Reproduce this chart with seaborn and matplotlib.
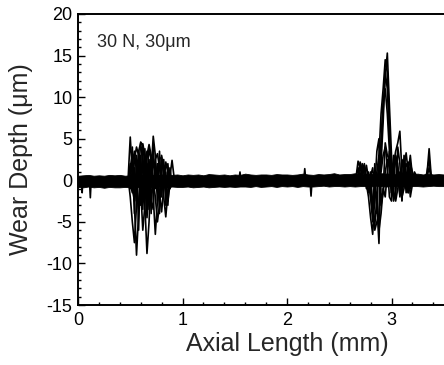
import numpy as np
import pandas as pd
import matplotlib
matplotlib.use("Agg")
import matplotlib.pyplot as plt
from matplotlib.ticker import MultipleLocator
import seaborn as sns

# ---------------- data ----------------
# baseline band envelope, sampled every 0.05 mm from 0 to 3.6 mm
base_start, base_step = 0.0, 0.05
base_upper = [0.55, 0.6, 0.65, 0.55, 0.6, 0.55, 0.65, 0.6, 0.65, 0.55,
              0.6, 0.65, 0.7, 0.6, 0.65, 0.6, 0.7, 0.6, 0.65, 0.7,
              0.6, 0.7, 0.65, 0.7, 0.6, 0.75, 0.7, 0.65, 0.7, 0.6,
              0.7, 0.65, 0.8, 0.7, 0.65, 0.7, 0.7, 0.65, 0.75, 0.7,
              0.7, 0.65, 0.7, 0.8, 0.7, 0.65, 0.75, 0.7, 0.75, 0.85,
              0.7, 0.75, 0.75, 0.85, 0.7, 0.75, 0.8, 0.75, 0.85, 0.8,
              0.8, 0.7, 0.8, 0.85, 0.75, 0.8, 0.7, 0.8, 0.7, 0.75,
              0.7, 0.75, 0.7]
base_lower = [-0.8, -0.85, -0.75, -0.85, -0.8, -0.9, -0.8, -0.85, -0.85, -0.8,
              -0.85, -0.75, -0.85, -0.8, -0.85, -0.75, -0.8, -0.85, -0.75, -0.8,
              -0.8, -0.75, -0.85, -0.8, -0.75, -0.85, -0.8, -0.75, -0.8, -0.75,
              -0.8, -0.75, -0.75, -0.8, -0.7, -0.8, -0.75, -0.7, -0.8, -0.7,
              -0.75, -0.7, -0.8, -0.7, -0.75, -0.75, -0.7, -0.65, -0.75, -0.7,
              -0.7, -0.75, -0.7, -0.75, -0.7, -0.7, -0.75, -0.65, -0.7, -0.75,
              -0.7, -0.7, -0.75, -0.65, -0.7, -0.7, -0.75, -0.7, -0.65, -0.7,
              -0.7, -0.7, -0.75]

# isolated narrow spikes on the baseline
spike_x = [0.0, 0.035, 0.04, 0.045, 0.11, 0.118, 0.126, 1.54, 1.55, 1.56,
           2.16, 2.17, 2.18, 2.22, 2.23, 2.24, 3.6]
spike_y = [0.0, 0.0, -1.5, 0.0, 0.0, -2.1, 0.0, 0.0, 1.0, 0.0,
           0.0, 1.4, 0.0, 0.0, -1.9, 0.0, 0.0]

# left wear zone, profiles sampled every 0.02 mm from 0.44 mm
left_start, left_step = 0.44, 0.02
left_profiles = {
    "L1": [0.1, -0.2, 0.3, 5.2, 1.0, -3.0, -9.0, -4.0, 0.5, 2.0, 1.5, 0.8, 0.3, 0.6,
           0.2, -0.3, 0.4, 0.1, -0.2, 0.3, 0.0, -0.2, 0.2, 0.1, -0.1, 0.2, 0.0],
    "L2": [-0.2, 0.2, 0.0, 0.5, -1.0, -2.5, 0.5, 3.5, 4.5, 2.0, -3.0, -8.8, -5.0, 1.0,
           5.3, 3.0, -1.0, 0.5, 0.2, -0.3, 0.1, 0.2, -0.2, 0.1, 0.0, -0.1, 0.2],
    "L3": [0.2, 0.0, -0.3, 1.5, 3.0, 0.5, -2.0, 1.0, 4.6, 4.2, 2.0, 0.5, 3.8, 2.5,
           0.0, -2.0, -5.0, -3.0, 3.0, 1.0, -1.0, 0.0, 0.2, -0.2, 0.1, 0.0, -0.1],
    "L4": [0.0, 0.3, 0.1, -0.5, -1.5, 2.5, 4.0, 3.0, -1.0, -3.5, 1.5, 3.5, 2.0, -2.5,
           -3.5, 2.5, 3.2, 1.5, 0.5, -2.0, -4.4, -1.5, 0.5, 2.4, 0.3, -0.2, 0.1],
    "L5": [-0.1, 0.1, 0.2, -2.0, -5.0, -7.5, -3.0, 2.0, -1.0, -6.0, -3.0, 3.0, 4.3, 3.0,
           -2.0, -6.5, -2.5, 2.5, 2.8, 0.5, 1.0, -2.5, -0.5, 0.3, -0.1, 0.1, 0.0],
    "L6": [0.1, -0.1, 0.0, 0.8, 2.0, 3.5, 1.0, -3.5, -2.0, 4.4, 3.0, -4.5, -1.0, 2.8,
           2.5, 1.5, 1.0, -1.5, -3.8, -1.0, 2.2, 1.0, -1.0, 0.0, 0.2, 0.0, -0.1],
    "L7": [0.0, 0.2, -0.1, 2.0, -1.0, 1.5, -2.5, 2.5, -3.0, 3.2, -2.0, 2.0, -3.5, 3.0,
           -1.5, 2.0, -2.5, 3.5, -2.0, 1.8, -3.0, 2.0, -1.0, 0.3, 0.1, -0.1, 0.0],
    "L8": [0.1, 0.0, 0.2, -1.0, 4.0, -4.0, 3.0, -6.0, 3.0, -2.5, 3.8, -3.5, 2.5, -4.0,
           4.0, -1.0, 2.0, -4.0, 1.5, 2.5, -1.0, -3.0, 1.5, -0.5, 0.2, 0.0, 0.1],
}

# right wear zone, profiles sampled every 0.02 mm from 2.60 mm
right_start, right_step = 2.60, 0.02
right_profiles = {
    "R1": [0.1, -0.2, 0.2, 0.0, 0.3, -0.1, 0.2, 0.0, -0.2, 0.1, 0.3, -0.5, 0.5, 0.2,
           1.0, 4.0, 8.5, 12.5, 15.3, 9.0, 3.0, -0.5, 0.5, 0.2, -0.3, 0.1, 0.2, -0.1,
           0.0, 0.2, -0.2, 0.1, 0.0, 0.2, -0.1, 0.1, 0.0, 0.2, -0.1, 0.1, 0.0, -0.2, 0.1],
    "R2": [0.0, 0.2, -0.1, 0.1, -0.2, 0.2, 0.0, 0.1, -0.3, -0.5, -2.0, -4.0, -1.0, -3.0,
           -7.6, 2.0, 7.0, 13.0, 11.0, 5.0, 1.0, -2.5, -1.0, 1.0, 0.5, -0.2, 0.1, 0.0,
           0.2, -0.1, 0.1, 0.0, -0.2, 0.2, 0.0, 0.1, -0.1, 0.0, 0.2, 0.1, -0.1, 0.0, 0.2],
    "R3": [-0.1, 0.1, 0.0, 0.3, 2.3, 1.5, 0.5, 0.2, -0.5, -2.0, -4.5, -6.5, -2.0, 1.0,
           3.0, -2.0, -1.5, 1.0, 2.5, 1.5, -1.0, 2.0, 3.5, 4.5, 5.9, 1.0, -0.5, 0.3,
           0.1, -0.1, 0.2, 0.0, 0.1, -0.2, 0.0, 0.1, 0.2, 0.0, -0.1, 0.1, 0.0, 0.2, -0.1],
    "R4": [0.2, 0.0, -0.1, 0.2, 0.1, 2.2, 1.0, 2.0, 0.5, 0.3, -1.0, -3.0, -5.5, -2.0,
           -6.0, -4.0, -1.0, -2.0, 1.0, 3.5, 2.0, -1.5, -2.5, -1.0, 1.0, -2.4, 1.5, 3.3,
           1.0, 3.0, 0.5, -0.5, 0.3, 0.0, 0.2, -0.1, 0.1, 0.0, -0.2, 0.1, 0.0, 0.1, 0.0],
    "R5": [0.0, 0.1, 0.2, -0.1, 0.0, 0.3, 0.5, 0.1, 1.8, 0.2, -0.3, 0.5, 1.0, -0.5,
           2.0, 1.0, 3.0, 4.0, 2.0, -2.0, -2.5, 1.0, 2.5, 1.5, -1.0, -2.0, -1.0, 2.0,
           1.5, -2.0, -0.5, 1.0, 0.5, 0.2, -0.3, 0.1, 0.3, 0.8, 3.8, 0.5, -0.2, 0.1, 0.0],
    "R6": [0.1, 0.0, -0.2, 0.1, 0.5, 0.2, -0.3, 0.0, 0.3, -0.2, 0.5, 1.5, -1.0, 3.5,
           5.0, -3.0, -1.5, 4.5, 3.0, 2.5, -1.5, 1.5, 2.8, 1.0, -1.8, 2.5, 1.8, -1.0,
           -1.5, 2.0, 1.0, 0.3, -0.4, 0.2, 0.1, -0.2, 0.0, 0.4, 1.5, 0.3, 0.0, -0.1, 0.1],
    "R7": [0.0, 0.1, -0.1, 0.2, 1.5, 0.3, 2.0, 0.5, -1.0, 1.0, -2.0, -5.0, 2.0, -4.0,
           3.0, 8.0, 11.0, 14.5, 13.0, 7.0, -1.5, 3.0, -2.0, 4.0, 2.0, -2.5, 3.0, 1.0,
           -1.5, 1.5, -0.5, 0.2, 0.0, 0.1, -0.1, 0.2, 0.0, 1.0, 2.5, 0.2, 0.0, 0.1, -0.1],
    "R8": [0.1, -0.1, 0.0, 0.1, 0.5, 2.0, 0.5, 1.5, -0.5, -1.5, 1.0, -3.0, -6.0, -5.0,
           -4.0, 5.0, 9.5, 11.0, 8.0, 3.5, -2.0, -1.0, 3.0, 2.0, -2.0, 1.5, 2.5, -1.5,
           2.2, -1.0, 0.8, -0.3, 0.1, 0.0, -0.1, 0.1, 0.2, 0.0, 0.5, 0.1, -0.1, 0.0, 0.1],
}

x_ticks = [0, 1, 2, 3]
y_ticks = [-15, -10, -5, 0, 5, 10, 15, 20]
annotation = "30 N, 30\u03bcm"

# ---------------- build long table ----------------
rows = []
for name, vals in left_profiles.items():
    for i, v in enumerate(vals):
        rows.append((name, left_start + left_step * i, v))
for name, vals in right_profiles.items():
    for i, v in enumerate(vals):
        rows.append((name, right_start + right_step * i, v))
for xv, yv in zip(spike_x, spike_y):
    rows.append(("S", xv, yv))
df = pd.DataFrame(rows, columns=["trace", "axial", "depth"])

base_x = [base_start + base_step * i for i in range(len(base_upper))]

# ---------------- plot ----------------
sns.set_style("ticks")
plt.rcParams["font.family"] = ["Liberation Sans", "DejaVu Sans"]
plt.rcParams["axes.unicode_minus"] = False

fig = plt.figure(figsize=(4.44, 3.65), dpi=100)
ax = fig.add_axes([78 / 444, 60 / 365, 418 / 444, 291 / 365])

ax.fill_between(base_x, base_lower, base_upper, color="black", lw=0.6,
                edgecolor="black")
sns.lineplot(data=df, x="axial", y="depth", units="trace", estimator=None,
             sort=False, color="black", lw=1.2, ax=ax, legend=False)

ax.set_xlim(0, 4)
ax.set_ylim(-15, 20)
ax.set_xticks(x_ticks)
ax.set_yticks(y_ticks)
ax.xaxis.set_minor_locator(MultipleLocator(0.2))
ax.yaxis.set_minor_locator(MultipleLocator(1))
ax.tick_params(which="both", direction="in", colors="black", width=1.0,
               labelsize=13, top=False, right=False)
ax.tick_params(which="major", length=5)
ax.tick_params(which="minor", length=2.5)
ax.tick_params(axis="x", pad=5)
ax.tick_params(axis="y", pad=4)

for side in ["left", "bottom", "top", "right"]:
    ax.spines[side].set_visible(True)
    ax.spines[side].set_linewidth(1.4)
    ax.spines[side].set_color("black")

ax.set_xlabel("Axial Length (mm)", fontsize=18, labelpad=2)
ax.set_ylabel("Wear Depth (\u03bcm)", fontsize=18, labelpad=10)
ax.text(0.18, 16.0, annotation, fontsize=13, ha="left", va="baseline")

fig.savefig("out.png", dpi=100, facecolor="white")
